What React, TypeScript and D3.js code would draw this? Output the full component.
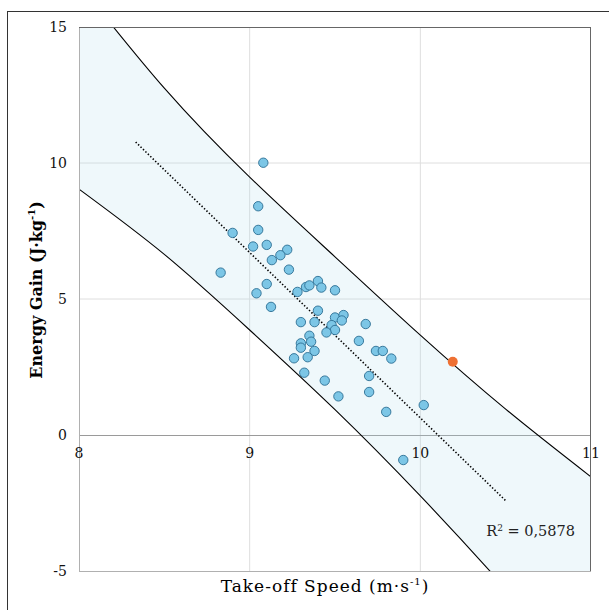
import React from 'react';
import * as d3 from 'd3';

// take-off speed (m/s) and energy gain (J/kg) for each jump
const speed = [
  9.08, 9.05, 8.9, 9.05, 9.02, 9.1, 9.22, 9.18, 9.13, 8.83,
  9.23, 9.1, 9.04, 9.28, 9.33, 9.35, 9.4, 9.42, 9.5, 9.125,
  9.4, 9.3, 9.38, 9.5, 9.55, 9.54, 9.48, 9.5, 9.45, 9.68,
  9.35, 9.3, 9.3, 9.36, 9.38, 9.26, 9.34, 9.64, 9.74, 9.78,
  9.83, 9.32, 9.44, 9.7, 9.7, 9.52, 9.8, 10.02, 9.9,
];
const gain = [
  10.01, 8.41, 7.43, 7.54, 6.93, 6.99, 6.81, 6.61, 6.43, 5.97,
  6.08, 5.55, 5.21, 5.26, 5.44, 5.5, 5.66, 5.42, 5.32, 4.71,
  4.57, 4.15, 4.15, 4.32, 4.41, 4.21, 4.04, 3.86, 3.77, 4.08,
  3.65, 3.37, 3.21, 3.43, 3.09, 2.82, 2.86, 3.46, 3.09, 3.09,
  2.81, 2.29, 2.0, 2.17, 1.58, 1.42, 0.85, 1.1, -0.92,
];

// highlighted jump
const highlight = { speed: 10.19, gain: 2.69 };

// linear fit and its prediction band
const trendX = [8.332, 10.506];
const trendY = [10.77, -2.45];
const bandX = [8, 8.5, 9, 9.5, 10, 10.5, 11];
const bandUpper = [16.58, 12.75, 9.48, 6.55, 3.67, 0.95, -1.54];
const bandLower = [9.04, 6.64, 3.86, 0.93, -2.24, -5.65, -9.27];
const rSquared = '0,5878';

const xTicks = [8, 9, 10, 11];
const yTicks = [-5, 0, 5, 10, 15];

const W = 609;
const H = 610;
const margin = { left: 79, right: 591, top: 27, bottom: 571 };
const font = '"DejaVu Serif", "Liberation Serif", serif';

export default function App() {
  const x = d3.scaleLinear().domain([8, 11]).range([margin.left, margin.right]);
  const y = d3.scaleLinear().domain([-5, 15]).range([margin.bottom, margin.top]);

  const idx = d3.range(bandX.length);
  const area = d3.area<number>()
    .x(i => x(bandX[i]))
    .y0(i => y(bandLower[i]))
    .y1(i => y(bandUpper[i]))
    .curve(d3.curveNatural);
  const upperLine = d3.line<number>().x(i => x(bandX[i])).y(i => y(bandUpper[i])).curve(d3.curveNatural);
  const lowerLine = d3.line<number>().x(i => x(bandX[i])).y(i => y(bandLower[i])).curve(d3.curveNatural);

  const pw = margin.right - margin.left;
  const ph = margin.bottom - margin.top;

  return (
    <svg width={W} height={H} style={{ position: 'absolute', left: 0, top: 0, display: 'block' }} fontFamily={font}>
      <defs>
        <clipPath id="plot">
          <rect x={margin.left} y={margin.top} width={pw} height={ph} />
        </clipPath>
      </defs>
      <rect x={0} y={0} width={W} height={H} fill="#fff" />
      {/* outer frame */}
      <rect x={7.5} y={11.5} width={W} height={H} fill="none" stroke="#333" strokeWidth={1} />

      {/* grid */}
      {xTicks.filter(t => t > 8 && t < 11).map(t => (
        <line key={'gx' + t} x1={x(t)} x2={x(t)} y1={margin.top} y2={margin.bottom} stroke="#dedede" />
      ))}
      {yTicks.filter(t => t > 0 && t < 15).map(t => (
        <line key={'gy' + t} x1={margin.left} x2={margin.right} y1={y(t)} y2={y(t)} stroke="#dedede" />
      ))}
      <line x1={margin.left} x2={margin.right} y1={y(0) + 0.5} y2={y(0) + 0.5} stroke="#9a9a9a" />

      <g clipPath="url(#plot)">
        <path d={area(idx) || ''} fill="rgb(175,220,235)" fillOpacity={0.2} />
        <path d={upperLine(idx) || ''} fill="none" stroke="#000" strokeWidth={1.1} />
        <path d={lowerLine(idx) || ''} fill="none" stroke="#000" strokeWidth={1.1} />
      </g>

      {/* plot border */}
      <line x1={margin.left + 0.5} x2={margin.left + 0.5} y1={margin.top} y2={margin.bottom} stroke="#b0b0b0" />
      <line x1={margin.left} x2={margin.right} y1={margin.bottom + 0.5} y2={margin.bottom + 0.5} stroke="#b0b0b0" />
      <line x1={margin.left} x2={margin.right} y1={margin.top + 0.5} y2={margin.top + 0.5} stroke="#666" />
      <line x1={margin.right - 0.5} x2={margin.right - 0.5} y1={margin.top} y2={margin.bottom} stroke="#666" />

      {/* trend line */}
      <line x1={x(trendX[0])} y1={y(trendY[0])} x2={x(trendX[1])} y2={y(trendY[1])}
        stroke="#000" strokeWidth={1.6} strokeDasharray="1.4 2" />

      {/* points */}
      {speed.map((s, i) => (
        <circle key={i} cx={x(s)} cy={y(gain[i])} r={4.7} fill="#7cc6e6" stroke="#2b6e93" strokeWidth={0.9} />
      ))}
      <circle cx={x(highlight.speed)} cy={y(highlight.gain)} r={5} fill="#ee7033" />

      {/* tick labels */}
      {yTicks.map(t => (
        <text key={'ty' + t} x={margin.left - 12} y={y(t)} dy="0.35em" textAnchor="end" fontSize={14} fill="#111">{t}</text>
      ))}
      {xTicks.map(t => (
        <text key={'tx' + t} x={x(t)} y={y(0) + 18} dy="0.35em" textAnchor="middle" fontSize={14} fill="#111">{t}</text>
      ))}

      <text x={575} y={536} textAnchor="end" fontSize={14.5} fill="#222">
        R<tspan dy={-5} fontSize={9}>2</tspan><tspan dy={5}> = {rSquared}</tspan>
      </text>

      {/* axis titles */}
      <text x={325} y={592} textAnchor="middle" fontSize={17} letterSpacing={1} fill="#000">
        Take-off Speed (m·s<tspan dy={-7} fontSize={10}>-1</tspan><tspan dy={7}>)</tspan>
      </text>
      <text transform="translate(42,290) rotate(-90)" textAnchor="middle" fontSize={16} fontWeight="bold" fill="#000">
        Energy Gain (J·kg<tspan dy={-7} fontSize={10}>-1</tspan><tspan dy={7}>)</tspan>
      </text>
    </svg>
  );
}
